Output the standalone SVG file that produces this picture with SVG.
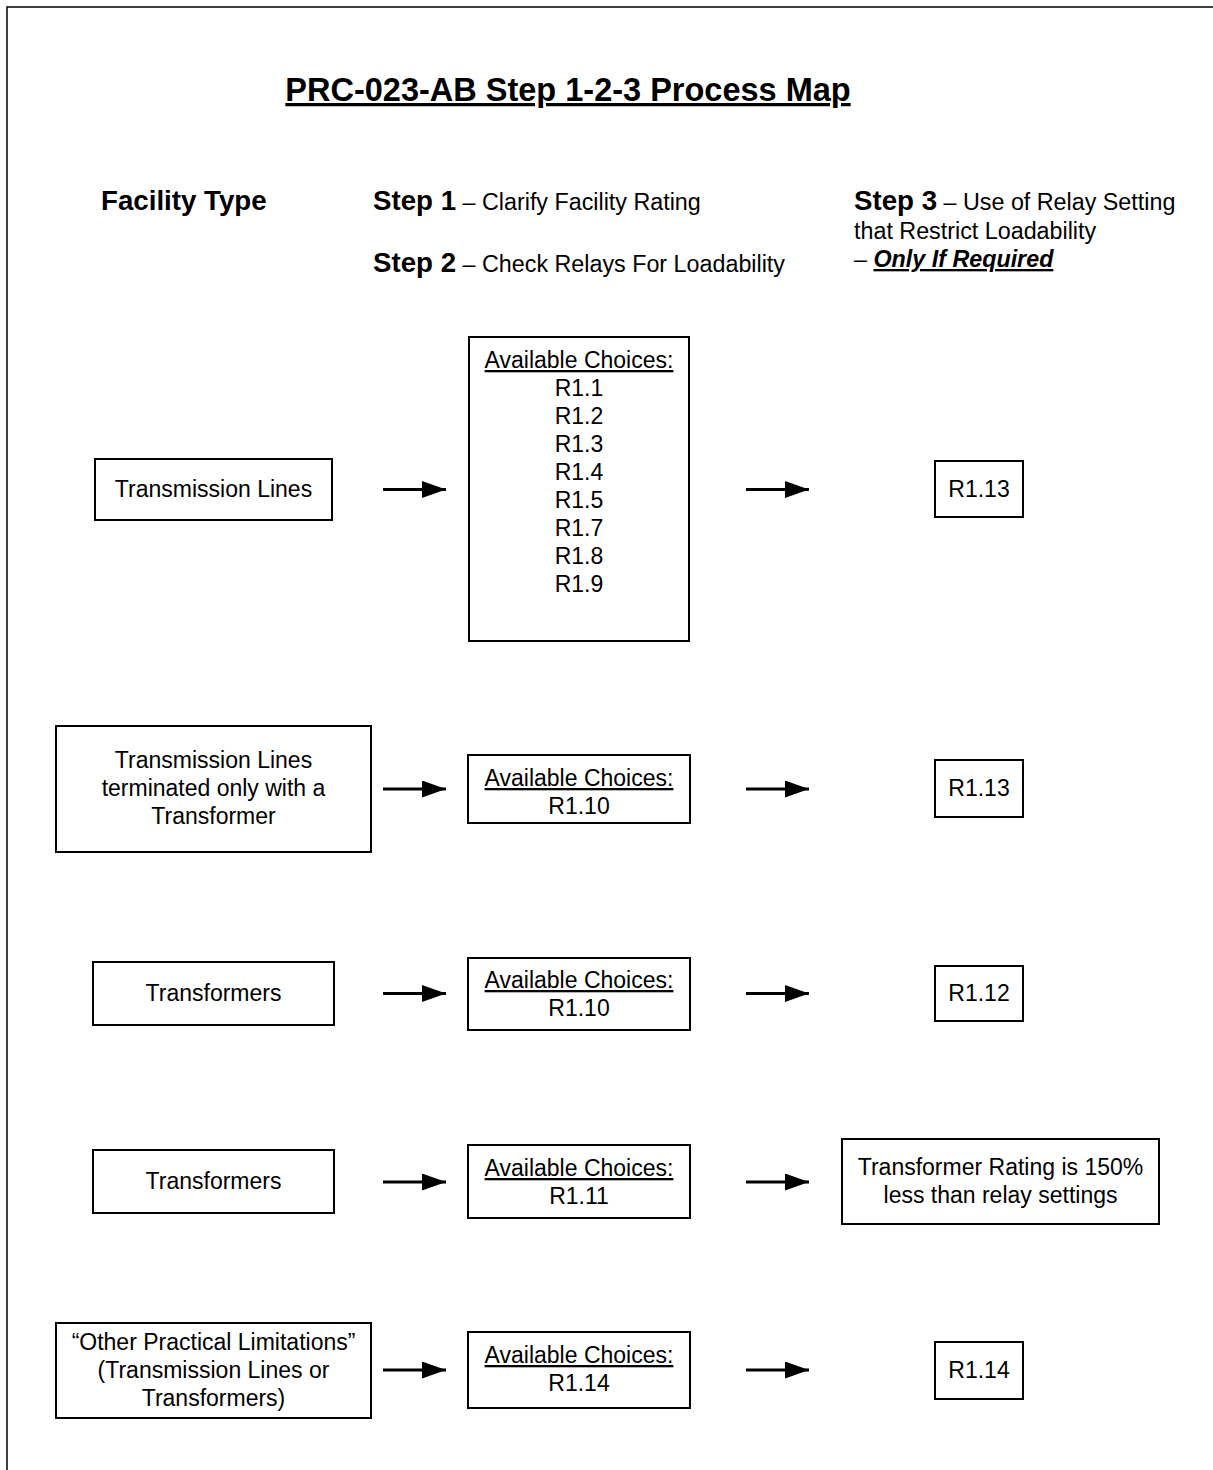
<svg xmlns="http://www.w3.org/2000/svg" width="1213" height="1470" viewBox="0 0 1213 1470">
<style>
text{font-family:"Liberation Sans",Arial,sans-serif;fill:#000}
.t{font-size:23px;text-anchor:middle}
.b{font-size:27.7px;font-weight:bold}
.r{font-size:23.3px}
.u{text-decoration:underline}
rect{fill:#fff;stroke:#000;stroke-width:2}
.c line{stroke:#000;stroke-width:3}
</style>
<defs>
<marker id="ah" markerUnits="userSpaceOnUse" markerWidth="25" markerHeight="17" refX="24" refY="8.5" orient="auto">
<path d="M0,0 L24,8.5 L0,17 Z" fill="#000"/>
</marker>
</defs>
<g id="border"><path d="M7,1470 V7 H1213" fill="none" stroke="#000" stroke-width="1.5"/></g>
<g id="headers">
<text x="568" y="101" style="font-size:32.5px;font-weight:bold;text-anchor:middle" class="u">PRC-023-AB Step 1-2-3 Process Map</text>
<text x="101" y="210" class="b">Facility Type</text>
<text x="373" y="210"><tspan class="b">Step 1</tspan><tspan class="r"> – Clarify Facility Rating</tspan></text>
<text x="373" y="272"><tspan class="b">Step 2</tspan><tspan class="r"> – Check Relays For Loadability</tspan></text>
<text x="854" y="210"><tspan class="b">Step 3</tspan><tspan class="r"> – Use of Relay Setting</tspan></text>
<text x="854" y="239" class="r">that Restrict Loadability</text>
<text x="854" y="267" class="r">– <tspan class="u" style="font-weight:bold;font-style:italic">Only If Required</tspan></text>
</g>
<g id="n1"><rect x="95" y="459" width="237" height="61"/><text class="t" x="213.5" y="497">Transmission Lines</text></g>
<g id="n2"><rect x="469" y="337" width="220" height="304"/>
<text class="t u" x="579" y="368">Available Choices:</text>
<text class="t" x="579" y="396">R1.1</text>
<text class="t" x="579" y="424">R1.2</text>
<text class="t" x="579" y="452">R1.3</text>
<text class="t" x="579" y="480">R1.4</text>
<text class="t" x="579" y="508">R1.5</text>
<text class="t" x="579" y="536">R1.7</text>
<text class="t" x="579" y="564">R1.8</text>
<text class="t" x="579" y="592">R1.9</text>
</g>
<g id="n3"><rect x="935" y="461" width="88" height="56"/><text class="t" x="979" y="497">R1.13</text></g>
<g id="n4"><rect x="56" y="726" width="315" height="126"/>
<text class="t" x="213.5" y="768">Transmission Lines</text>
<text class="t" x="213.5" y="796">terminated only with a</text>
<text class="t" x="213.5" y="824">Transformer</text></g>
<g id="n5"><rect x="468" y="755" width="222" height="68"/><text class="t u" x="579" y="786">Available Choices:</text><text class="t" x="579" y="814">R1.10</text></g>
<g id="n6"><rect x="935" y="760" width="88" height="57"/><text class="t" x="979" y="796">R1.13</text></g>
<g id="n7"><rect x="93" y="962" width="241" height="63"/><text class="t" x="213.5" y="1001">Transformers</text></g>
<g id="n8"><rect x="468" y="958" width="222" height="72"/><text class="t u" x="579" y="988">Available Choices:</text><text class="t" x="579" y="1016">R1.10</text></g>
<g id="n9"><rect x="935" y="966" width="88" height="55"/><text class="t" x="979" y="1001">R1.12</text></g>
<g id="n10"><rect x="93" y="1150" width="241" height="63"/><text class="t" x="213.5" y="1189">Transformers</text></g>
<g id="n11"><rect x="468" y="1145" width="222" height="73"/><text class="t u" x="579" y="1176">Available Choices:</text><text class="t" x="579" y="1204">R1.11</text></g>
<g id="n12"><rect x="842" y="1139" width="317" height="85"/><text class="t" x="1000.5" y="1175">Transformer Rating is 150%</text><text class="t" x="1000.5" y="1203">less than relay settings</text></g>
<g id="n13"><rect x="56" y="1323" width="315" height="95"/>
<text class="t" x="213.5" y="1350">“Other Practical Limitations”</text>
<text class="t" x="213.5" y="1378">(Transmission Lines or</text>
<text class="t" x="213.5" y="1406">Transformers)</text></g>
<g id="n14"><rect x="468" y="1332" width="222" height="76"/><text class="t u" x="579" y="1363">Available Choices:</text><text class="t" x="579" y="1391">R1.14</text></g>
<g id="n15"><rect x="935" y="1342" width="88" height="57"/><text class="t" x="979" y="1378">R1.14</text></g>
<g id="connectors" class="c">
<line x1="383" y1="489.5" x2="446" y2="489.5" marker-end="url(#ah)"/>
<line x1="746" y1="489.5" x2="809" y2="489.5" marker-end="url(#ah)"/>
<line x1="383" y1="789" x2="446" y2="789" marker-end="url(#ah)"/>
<line x1="746" y1="789" x2="809" y2="789" marker-end="url(#ah)"/>
<line x1="383" y1="993.5" x2="446" y2="993.5" marker-end="url(#ah)"/>
<line x1="746" y1="993.5" x2="809" y2="993.5" marker-end="url(#ah)"/>
<line x1="383" y1="1182" x2="446" y2="1182" marker-end="url(#ah)"/>
<line x1="746" y1="1182" x2="809" y2="1182" marker-end="url(#ah)"/>
<line x1="383" y1="1370" x2="446" y2="1370" marker-end="url(#ah)"/>
<line x1="746" y1="1370" x2="809" y2="1370" marker-end="url(#ah)"/>
</g>
</svg>
